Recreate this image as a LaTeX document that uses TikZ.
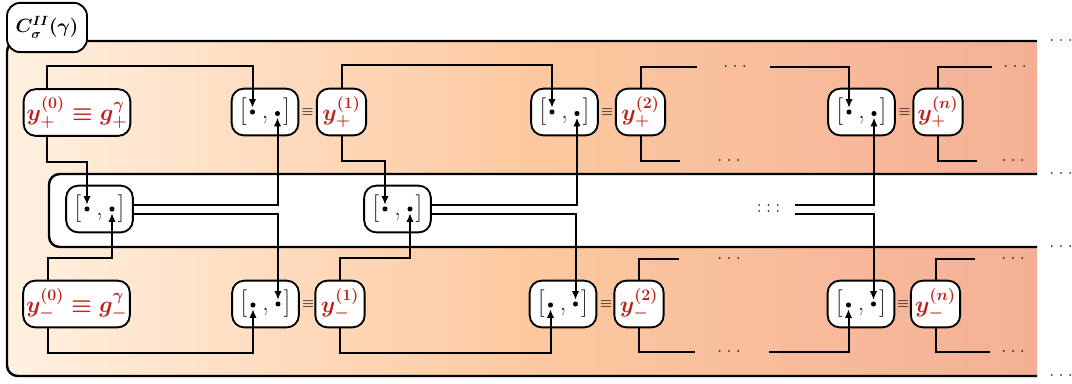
\documentclass[tikz,border=0pt]{standalone}
\usepackage{amsmath, amssymb}
\usepackage{tikz}
\usetikzlibrary{arrows.meta, positioning}

\definecolor{labred}{RGB}{190,32,26}
\definecolor{brkgray}{RGB}{40,40,40}
\definecolor{peachL}{RGB}{255,240,224}
\definecolor{peachM}{RGB}{253,201,160}
\definecolor{peachR}{RGB}{243,176,150}

\newcommand{\spdots}{\ensuremath{{\cdot}\hspace{3.6pt}{\cdot}\hspace{3.6pt}{\cdot}}}

\tikzset{
    wire/.style={line width=1.5pt},
    arr/.style={wire, -{Latex[length=6.5pt,width=5.5pt]}, shorten >=1pt},
    frame/.style={line width=1.8pt, rounded corners=8pt},
    box/.style={draw, line width=1.4pt, rounded corners=9pt, fill=white, inner sep=0pt, minimum height=35pt},
    brk/.style={box, minimum width=50pt, font=\huge, text=brkgray},
    yval/.style={box, minimum width=37pt, font=\LARGE\boldmath, text=labred},
    ywide/.style={yval, minimum width=80pt},
    tab/.style={box, rounded corners=10pt, minimum width=60pt, minimum height=37pt, font=\Large\boldmath},
    bdot/.style={circle, fill=black, inner sep=0pt, minimum size=3.8pt},
    eqv/.style={inner sep=0pt, text=brkgray, font=\boldmath},
    more/.style={inner sep=0pt, font=\large},
}

\begin{document}
\begin{tikzpicture}[x=0.75pt,y=0.75pt,yscale=-1,xscale=1]
    \useasboundingbox (0,0) rectangle (1072,383);

    % background frame
    \begin{scope}
        \clip[rounded corners=8pt] (7,41) rectangle (1080,376);
        \shade[left color=peachL, right color=peachR, middle color=peachM] (7,41) rectangle (1037,376);
    \end{scope}
    \draw[frame] (1037,41) -- (7,41) -- (7,376) -- (1037,376);
    % middle band
    \fill[white, rounded corners=8pt] (49,174) rectangle (1052,247);
    \draw[frame] (1037,174) -- (49,174) -- (49,247) -- (1037,247);

    % Tab
    \node[tab] (lab) at (47,27.5) {$C^{II}_{\sigma}(\gamma)$};

    % top row
    \node[ywide] (yp0) at (77,112.5) {$y^{(0)}_{+}\equiv g^{\gamma}_{+}$};
    \node[brk] (tb1) at (265,112) {[\hspace{11pt},\hspace{11pt}]};
    \node[eqv] (eqa) at (307.5,112) {$\equiv$};
    \node[yval] (yp1) at (341.5,112) {$y^{(1)}_{+}$};
    \node[brk] (tb2) at (564.5,112) {[\hspace{11pt},\hspace{11pt}]};
    \node[eqv] (eqb) at (607,112) {$\equiv$};
    \node[yval] (yp2) at (640.5,112) {$y^{(2)}_{+}$};
    \node[brk] (tb3) at (861.5,112) {[\hspace{11pt},\hspace{11pt}]};
    \node[eqv] (eqc) at (904.5,112) {$\equiv$};
    \node[yval] (ypn) at (938,112) {$y^{(n)}_{+}$};

    % middle row
    \node[brk] (mb1) at (99.5,209) {[\hspace{11pt},\hspace{11pt}]};
    \node[brk] (mb2) at (397.5,209) {[\hspace{11pt},\hspace{11pt}]};

    % bottom row
    \node[ywide] (ym0) at (76.5,304) {$y^{(0)}_{-}\equiv g^{\gamma}_{-}$};
    \node[brk] (bb1) at (265.5,304) {[\hspace{11pt},\hspace{11pt}]};
    \node[eqv] (eqd) at (308,304) {$\equiv$};
    \node[yval] (ym1) at (340,304) {$y^{(1)}_{-}$};
    \node[brk] (bb2) at (563,304) {[\hspace{11pt},\hspace{11pt}]};
    \node[eqv] (eqe) at (606,304) {$\equiv$};
    \node[yval] (ym2) at (639,304) {$y^{(2)}_{-}$};
    \node[brk] (bb3) at (861,304) {[\hspace{11pt},\hspace{11pt}]};
    \node[eqv] (eqf) at (903,304) {$\equiv$};
    \node[yval] (ymn) at (935.5,304) {$y^{(n)}_{-}$};

    % slots
    \node[bdot] (tb1l) at ([shift={(-12.5,0)}]tb1.center) {};
    \node[bdot] (tb1r) at ([shift={(12.5,1.5)}]tb1.center) {};
    \node[bdot] (tb2l) at ([shift={(-12.5,0)}]tb2.center) {};
    \node[bdot] (tb2r) at ([shift={(12.5,1.5)}]tb2.center) {};
    \node[bdot] (tb3l) at ([shift={(-12.5,0)}]tb3.center) {};
    \node[bdot] (tb3r) at ([shift={(12.5,1.5)}]tb3.center) {};
    \node[bdot] (mb1l) at ([shift={(-12.5,0)}]mb1.center) {};
    \node[bdot] (mb1r) at ([shift={(12.5,0)}]mb1.center) {};
    \node[bdot] (mb2l) at ([shift={(-12.5,0)}]mb2.center) {};
    \node[bdot] (mb2r) at ([shift={(12.5,0)}]mb2.center) {};
    \node[bdot] (bb1l) at ([shift={(-12.5,1)}]bb1.center) {};
    \node[bdot] (bb1r) at ([shift={(12.5,0)}]bb1.center) {};
    \node[bdot] (bb2l) at ([shift={(-12.5,1)}]bb2.center) {};
    \node[bdot] (bb2r) at ([shift={(12.5,0)}]bb2.center) {};
    \node[bdot] (bb3l) at ([shift={(-12.5,1)}]bb3.center) {};
    \node[bdot] (bb3r) at ([shift={(12.5,0)}]bb3.center) {};

    % free ends
    \coordinate (u2a) at (697,66.5);
    \coordinate (u2b) at (680,161);
    \coordinate (u3a) at (770,66.5);
    \coordinate (una) at (992,66.5);
    \coordinate (unb) at (977,161);
    \coordinate (m3a) at (795,204.5);
    \coordinate (m3b) at (795,213.5);
    \coordinate (v2a) at (679,259);
    \coordinate (v2b) at (695,352);
    \coordinate (v3b) at (769,352);
    \coordinate (vna) at (975,259);
    \coordinate (vnb) at (990,352);

    % top row wires
    \draw[arr] ([shift={(-30,0)}]yp0.north) -- ++(0,-22) -| (tb1l);
    \draw[arr] ([shift={(-30,0)}]yp0.south) -- ++(0,25) -| (mb1l);
    \draw[arr] (yp1.north) -- ++(0,-23) -| (tb2l);
    \draw[arr] (yp1.south) -- ++(0,25) -| (mb2l);
    \draw[wire] (yp2.north) |- (u2a);
    \draw[wire] (yp2.south) |- (u2b);
    \draw[arr] (u3a) -| (tb3l);
    \draw[wire] (ypn.north) |- (una);
    \draw[wire] (ypn.south) |- (unb);

    % commutators in the band
    \draw[arr] ([shift={(0,-4.5)}]mb1.east) -| (tb1r);
    \draw[arr] ([shift={(0,4.5)}]mb1.east) -| (bb1r);
    \draw[arr] ([shift={(0,-4.5)}]mb2.east) -| (tb2r);
    \draw[arr] ([shift={(0,4.5)}]mb2.east) -| (bb2r);
    \draw[arr] (m3a) -| (tb3r);
    \draw[arr] (m3b) -| (bb3r);

    % bottom row wires
    \draw[arr] ([shift={(-28.5,0)}]ym0.north) -- ++(0,-22) -| (mb1r);
    \draw[arr] ([shift={(-28.5,0)}]ym0.south) -- ++(0,25) -| (bb1l);
    \draw[arr] (ym1.north) -- ++(0,-22) -| (mb2r);
    \draw[arr] (ym1.south) -- ++(0,25) -| (bb2l);
    \draw[wire] (ym2.north) |- (v2a);
    \draw[wire] (ym2.south) |- (v2b);
    \draw[arr] (v3b) -| (bb3l);
    \draw[wire] (ymn.north) |- (vna);
    \draw[wire] (ymn.south) |- (vnb);

    % dots
    \node[more] (d1) at (735,66.5) {\spdots};
    \node[more] (d2) at (729,161) {\spdots};
    \node[more] (d3) at (1015,66.5) {\spdots};
    \node[more] (d4) at (1013,161) {\spdots};
    \node[more, align=center] (d5) at (768.5,209) {\spdots\\[-9.5pt]\spdots};
    \node[more] (d7) at (729,259) {\spdots};
    \node[more] (d8) at (729,352) {\spdots};
    \node[more] (d9) at (1013,259) {\spdots};
    \node[more] (d10) at (1013,352) {\spdots};
    \node[more] (e1) at (1061,41) {\spdots};
    \node[more] (e2) at (1061,174) {\spdots};
    \node[more] (e3) at (1061,247) {\spdots};
    \node[more] (e4) at (1061,376) {\spdots};

\end{tikzpicture}
\end{document}
